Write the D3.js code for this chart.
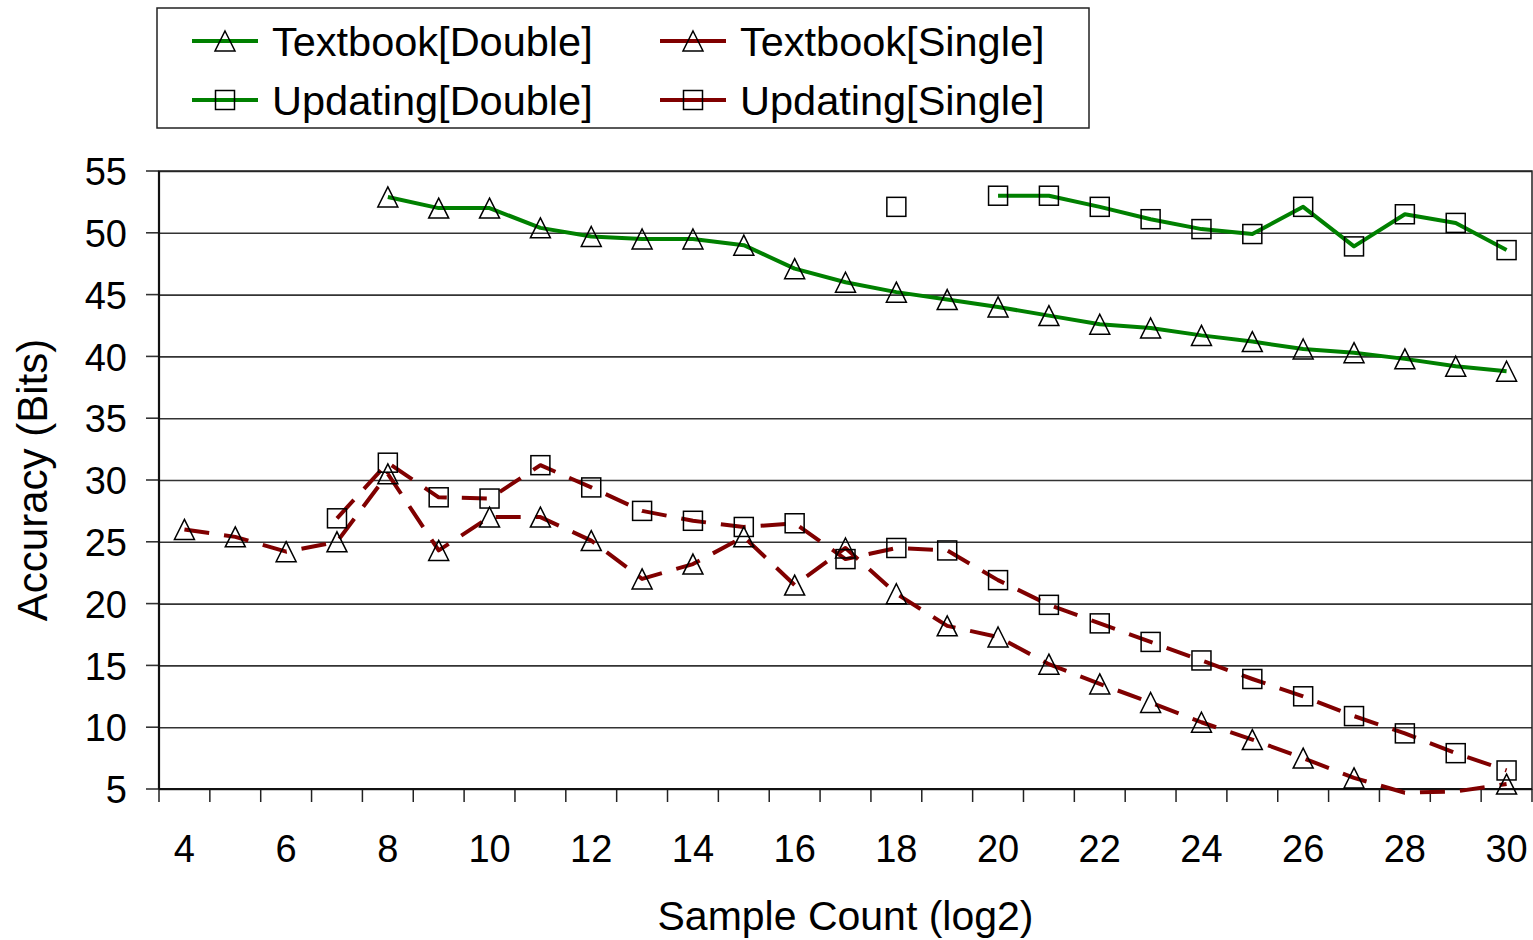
<!DOCTYPE html>
<html>
<head>
<meta charset="utf-8">
<script src="https://cdn.jsdelivr.net/npm/d3@7/dist/d3.min.js"></script>
<style>
  html, body { margin: 0; padding: 0; background: #fff; }
  svg { display: block; }
  text { font-family: "Liberation Sans", Arial, sans-serif; fill: #000; }
</style>
</head>
<body>
<svg id="chart" width="1533" height="940"></svg>
<script>
// Sample count exponents (log2)
const categories = [4,5,6,7,8,9,10,11,12,13,14,15,16,17,18,19,20,21,22,23,24,25,26,27,28,29,30];
const xTickLabels = [4,6,8,10,12,14,16,18,20,22,24,26,28,30];
const yTickValues = [5,10,15,20,25,30,35,40,45,50,55];

// Accuracy in bits, one value per category (null = no measurement)
const textbookDouble = [null,null,null,null,52.9,52.0,52.0,50.4,49.7,49.5,49.5,49.0,47.1,46.0,45.2,44.6,44.0,43.3,42.6,42.3,41.7,41.2,40.6,40.3,39.8,39.2,38.8];
const updatingDouble = [null,null,null,null,null,null,null,null,null,null,null,null,null,null,52.1,null,53.0,53.0,52.1,51.1,50.3,49.9,52.1,48.9,51.5,50.8,48.6];
const textbookSingle = [26.0,25.4,24.2,25.0,30.5,24.3,27.0,27.0,25.1,22.0,23.2,25.4,21.5,24.5,20.8,18.2,17.3,15.1,13.5,12.0,10.4,9.0,7.5,5.9,4.7,4.8,5.4];
const updatingSingle = [null,null,null,26.9,31.4,28.6,28.5,31.2,29.4,27.5,26.7,26.2,26.5,23.6,24.5,24.3,21.9,19.9,18.4,16.9,15.4,13.9,12.5,10.9,9.5,7.9,6.5];

const seriesNames = ["Textbook[Double]", "Updating[Double]", "Textbook[Single]", "Updating[Single]"];

const GREEN = "#008000";
const DARKRED = "#800000";

const series = [
  { name: seriesNames[0], values: textbookDouble, color: GREEN, dash: null, marker: "triangle" },
  { name: seriesNames[1], values: updatingDouble, color: GREEN, dash: null, marker: "square" },
  { name: seriesNames[2], values: textbookSingle, color: DARKRED, dash: "25,15", marker: "triangle" },
  { name: seriesNames[3], values: updatingSingle, color: DARKRED, dash: "25,15", marker: "square" }
];

const svg = d3.select("#chart");
const plot = { left: 159, right: 1532, top: 171, bottom: 789 };

const x = d3.scaleBand().domain(categories).range([plot.left, plot.right]).padding(0);
const y = d3.scaleLinear().domain([5, 55]).range([plot.bottom, plot.top]);
const cx = c => x(c) + x.bandwidth() / 2;
const yMin = y.domain()[0];

// Horizontal gridlines across the plot
const yAxis = d3.axisLeft(y).tickValues(yTickValues).tickSize(plot.right - plot.left).tickSizeOuter(0);
const gy = svg.append("g").attr("transform", `translate(${plot.right},0)`).call(yAxis);
gy.select(".domain").remove();
gy.selectAll(".tick line").attr("stroke", "#333").attr("stroke-width", 1.6);
gy.selectAll(".tick text")
  .attr("x", -(plot.right - plot.left) - 32)
  .style("font-size", "38px")
  .style("font-family", "'Liberation Sans', Arial, sans-serif")
  .attr("dy", "0.36em");
// outward tick stubs left of the value axis
svg.append("g").selectAll("line").data(yTickValues).join("line")
  .attr("x1", plot.left - 13).attr("x2", plot.left)
  .attr("y1", d => y(d)).attr("y2", d => y(d))
  .attr("stroke", "#333").attr("stroke-width", 1.6);

// Plot area border
svg.append("rect")
  .attr("x", plot.left).attr("y", plot.top)
  .attr("width", plot.right - plot.left).attr("height", plot.bottom - plot.top)
  .attr("fill", "none").attr("stroke", "#222").attr("stroke-width", 1.5);

// Category axis: labels at every other category, ticks between categories
const xAxis = d3.axisBottom(x).tickValues(xTickLabels).tickSize(0).tickPadding(46);
const gx = svg.append("g").attr("transform", `translate(0,${plot.bottom})`).call(xAxis);
gx.select(".domain").remove();
gx.selectAll(".tick text")
  .style("font-size", "38px")
  .style("font-family", "'Liberation Sans', Arial, sans-serif");

const boundaries = categories.map(c => x(c)).concat([plot.right]);
svg.append("g").selectAll("line").data(boundaries).join("line")
  .attr("x1", d => d).attr("x2", d => d)
  .attr("y1", plot.bottom).attr("y2", plot.bottom + 13)
  .attr("stroke", "#222").attr("stroke-width", 1.5);

// Axis lines
svg.append("line").attr("x1", plot.left).attr("x2", plot.right)
  .attr("y1", plot.bottom).attr("y2", plot.bottom)
  .attr("stroke", "#111").attr("stroke-width", 2.2);
svg.append("line").attr("x1", plot.left).attr("x2", plot.left)
  .attr("y1", plot.top).attr("y2", plot.bottom)
  .attr("stroke", "#111").attr("stroke-width", 2.2);

// Axis titles
svg.append("text")
  .attr("x", (plot.left + plot.right) / 2).attr("y", 930)
  .attr("text-anchor", "middle").style("font-size", "41px")
  .text("Sample Count (log2)");
svg.append("text")
  .attr("transform", `translate(47,${(plot.top + plot.bottom) / 2}) rotate(-90)`)
  .attr("text-anchor", "middle").style("font-size", "42px")
  .text("Accuracy (Bits)");

// Marker shapes
const triSize = 20, sqSize = 19;
function drawMarker(g, type, px, py) {
  if (type === "triangle") {
    const h = triSize / 2;
    g.append("path")
      .attr("d", `M${px},${py - h}L${px + h},${py + h}L${px - h},${py + h}Z`)
      .attr("fill", "none").attr("stroke", "#000").attr("stroke-width", 1.5);
  } else {
    g.append("rect")
      .attr("x", px - sqSize / 2).attr("y", py - sqSize / 2)
      .attr("width", sqSize).attr("height", sqSize)
      .attr("fill", "none").attr("stroke", "#000").attr("stroke-width", 1.5);
  }
}

// Series lines and markers (markers below the axis minimum are not shown)
const line = d3.line()
  .defined(d => d.v !== null)
  .x(d => cx(d.c))
  .y(d => y(d.v));

series.forEach(s => {
  const pts = categories.map((c, i) => ({ c, v: s.values[i] }));
  svg.append("path")
    .datum(pts)
    .attr("d", line)
    .attr("fill", "none")
    .attr("stroke", s.color)
    .attr("stroke-width", 4)
    .attr("stroke-dasharray", s.dash)
    .attr("stroke-linejoin", "round");
});
series.forEach(s => {
  const g = svg.append("g");
  categories.forEach((c, i) => {
    const v = s.values[i];
    if (v !== null && v >= yMin) drawMarker(g, s.marker, cx(c), y(v));
  });
});

// Legend
const legend = svg.append("g");
legend.append("rect")
  .attr("x", 157).attr("y", 8).attr("width", 932).attr("height", 120)
  .attr("fill", "#fff").attr("stroke", "#222").attr("stroke-width", 1.5);
const legendPos = [
  { x: 192, y: 41 }, { x: 192, y: 100 }, { x: 660, y: 41 }, { x: 660, y: 100 }
];
series.forEach((s, i) => {
  const p = legendPos[i];
  legend.append("line")
    .attr("x1", p.x).attr("x2", p.x + 66)
    .attr("y1", p.y).attr("y2", p.y)
    .attr("stroke", s.color).attr("stroke-width", 4);
  drawMarker(legend, s.marker, p.x + 33, p.y);
  legend.append("text")
    .attr("x", p.x + 80).attr("y", p.y + 15)
    .style("font-size", "41.5px")
    .text(s.name);
});
</script>
</body>
</html>
